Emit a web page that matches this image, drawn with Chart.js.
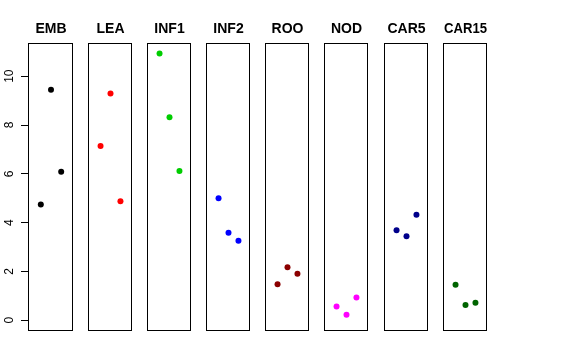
<!DOCTYPE html>
<html>
<head>
<meta charset="utf-8">
<script src="https://cdn.jsdelivr.net/npm/chart.js@4"></script>
<style>
  body { margin: 0; background: #fff; }
  #wrap { position: relative; width: 576px; height: 360px; }
  canvas { position: absolute; top: 0; }
</style>
</head>
<body>
<div id="wrap"></div>
<script>
const categories = ["EMB", "LEA", "INF1", "INF2", "ROO", "NOD", "CAR5", "CAR15"];
const positions = [1, 2, 3];
const emb = [4.74, 9.44, 6.08];
const lea = [7.14, 9.29, 4.88];
const inf1 = [10.93, 8.32, 6.12];
const inf2 = [5.0, 3.59, 3.26];
const roo = [1.48, 2.17, 1.91];
const nod = [0.56, 0.23, 0.93];
const car5 = [3.69, 3.44, 4.32];
const car15 = [1.46, 0.63, 0.72];
const yTicks = [0, 2, 4, 6, 8, 10];

const series = [emb, lea, inf1, inf2, roo, nod, car5, car15];
const COLORS = ["#000000", "#ff0000", "#00cd00", "#0000ff", "#8b0000", "#ff00ff", "#00008b", "#006400"];

const panelLeft = [29, 88, 147, 206, 265, 324, 384, 443];
const PANEL_W = 45;
const wrap = document.getElementById("wrap");

// box round each panel
const boxPlugin = {
	id: "box",
	afterDraw(chart) {
		const a = chart.chartArea;
		const ctx = chart.ctx;
		ctx.save();
		ctx.strokeStyle = "#000";
		ctx.lineWidth = 1;
		ctx.strokeRect(a.left - 0.5, a.top + 0.5, a.right - a.left, a.bottom - a.top - 1);
		ctx.restore();
	},
};

// rotated y tick labels, like R's default axis
const yLabelPlugin = {
	id: "ylabels",
	afterDraw(chart) {
		const ctx = chart.ctx;
		const y = chart.scales.y;
		ctx.save();
		ctx.fillStyle = "#000";
		ctx.font = "12px 'Liberation Sans', Arial, sans-serif";
		ctx.textAlign = "center";
		ctx.textBaseline = "middle";
		yTicks.forEach((v) => {
			ctx.save();
			ctx.translate(10, y.getPixelForValue(v));
			ctx.rotate(-Math.PI / 2);
			ctx.fillText(String(v), 0, 0);
			ctx.restore();
		});
		ctx.restore();
	},
};

categories.forEach((name, i) => {
	const first = i === 0;
	const canvas = document.createElement("canvas");
	const left = first ? 0 : panelLeft[i] - 2;
	const width = first ? panelLeft[i] + PANEL_W + 2 : PANEL_W + 4;
	canvas.width = width;
	canvas.height = 360;
	canvas.style.left = left + "px";
	wrap.appendChild(canvas);

	const yScale = {
		display: first,
		min: -0.44,
		max: 11.36,
		afterBuildTicks: (scale) => {
			scale.ticks = yTicks.map((v) => ({ value: v }));
		},
		border: { display: false },
		grid: {
			drawOnChartArea: false,
			drawTicks: true,
			tickLength: 8,
			color: "#000",
		},
		ticks: { display: false },
	};
	if (first) {
		yScale.afterFit = (scale) => {
			scale.width = panelLeft[0];
		};
	}

	new Chart(canvas, {
		type: "scatter",
		data: {
			datasets: [
				{
					data: positions.map((x, j) => ({ x: x, y: series[i][j] })),
					backgroundColor: COLORS[i],
					borderWidth: 0,
					pointRadius: 3,
					pointHoverRadius: 3,
				},
			],
		},
		options: {
			responsive: false,
			animation: false,
			events: [],
			layout: {
				padding: { top: 0, bottom: 29, left: first ? 0 : 2, right: 2 },
			},
			plugins: {
				legend: { display: false },
				tooltip: { enabled: false },
				title: {
					display: true,
					text: name,
					fullSize: false,
					color: "#000",
					font: { family: "'Liberation Sans', Arial, sans-serif", size: 14, weight: "bold" },
					padding: { top: 20.6, bottom: 5.6 },
				},
			},
			scales: {
				x: {
					type: "linear",
					display: false,
					min: -0.16,
					max: 4.16,
				},
				y: yScale,
			},
		},
		plugins: first ? [boxPlugin, yLabelPlugin] : [boxPlugin],
	});
});
</script>
</body>
</html>
